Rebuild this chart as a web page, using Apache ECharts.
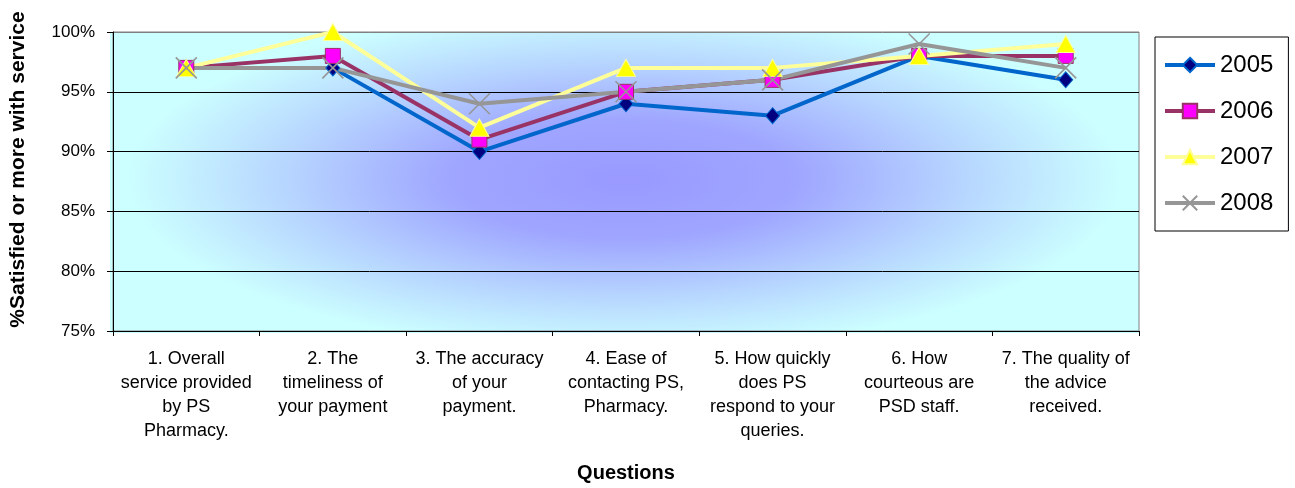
<!DOCTYPE html>
<html>
<head>
<meta charset="utf-8">
<title>Satisfaction with PS Pharmacy service</title>
<script src="https://cdn.jsdelivr.net/npm/echarts@6/dist/echarts.min.js"></script>
<style>
  html, body { margin: 0; padding: 0; background: #ffffff; }
  #chart { width: 1295px; height: 488px; }
</style>
</head>
<body>
<div id="chart"></div>
<script>
// Survey questions (line breaks as printed under the axis)
const questions = [
  '1. Overall\nservice provided\nby PS\nPharmacy.',
  '2. The\ntimeliness of\nyour payment',
  '3. The accuracy\nof your\npayment.',
  '4. Ease of\ncontacting PS,\nPharmacy.',
  '5. How quickly\ndoes PS\nrespond to your\nqueries.',
  '6. How\ncourteous are\nPSD staff.',
  '7. The quality of\nthe advice\nreceived.'
];

// % satisfied or more, per survey year
const years = ['2005', '2006', '2007', '2008'];
const values2005 = [97, 97, 90, 94, 93, 98, 96];
const values2006 = [97, 98, 91, 95, 96, 98, 98];
const values2007 = [97, 100, 92, 97, 97, 98, 99];
const values2008 = [97, 97, 94, 95, 96, 99, 97];

// Value axis range
const yMin = 75;
const yMax = 100;
const yStep = 5;

// Plot area placement
const W = 1295, H = 488;
const gridLeft = 110, gridTop = 32, gridRight = 156, gridBottom = 155;
const plotW = W - gridLeft - gridRight;
const plotH = H - gridTop - gridBottom;

const FONT = '"Liberation Sans", Arial, sans-serif';

// Elliptical "from centre" fill behind the plot: a radial gradient on a
// rect that is stretched horizontally.
const aspect = 2.9;
const backdrop = {
  type: 'rect',
  z: -10,
  silent: true,
  x: gridLeft,
  y: gridTop,
  scaleX: aspect,
  scaleY: 1,
  shape: { x: 0, y: 0, width: plotW / aspect, height: plotH },
  style: {
    fill: new echarts.graphic.RadialGradient(0.5, 0.49, 0.57, [
      { offset: 0, color: '#9999ff' },
      { offset: 0.35, color: '#9fa6ff' },
      { offset: 0.7, color: '#b8d8ff' },
      { offset: 1, color: '#ccffff' }
    ])
  }
};

const xCross = 'path://M0,0L10,10M10,0L0,10';

function lineSeries(name, data, lineColor, symbol, symbolSize, fill, border, borderWidth) {
  return {
    name: name,
    type: 'line',
    data: data,
    symbol: symbol,
    symbolSize: symbolSize,
    lineStyle: { color: lineColor, width: 4 },
    itemStyle: { color: fill, borderColor: border, borderWidth: borderWidth },
    emphasis: { disabled: true },
    animation: false
  };
}

const chart = echarts.init(document.getElementById('chart'), null, { renderer: 'canvas' });

chart.setOption({
  backgroundColor: '#ffffff',
  animation: false,
  graphic: [backdrop],
  grid: {
    left: gridLeft, top: gridTop, right: gridRight, bottom: gridBottom,
    show: true,
    backgroundColor: 'transparent',
    borderColor: '#808080',
    borderWidth: 1
  },
  legend: {
    orient: 'vertical',
    left: 1155,
    top: 37,
    padding: [14, 15, 14, 8],
    itemWidth: 50,
    itemHeight: 18,
    itemGap: 18,
    backgroundColor: '#ffffff',
    borderColor: '#000000',
    borderWidth: 1,
    borderRadius: 0,
    lineStyle: { width: 4 },
    textStyle: { fontFamily: FONT, fontSize: 24, color: '#000', lineHeight: 28 },
    data: years
  },
  xAxis: {
    type: 'category',
    data: questions,
    boundaryGap: true,
    name: 'Questions',
    nameLocation: 'middle',
    nameGap: 132,
    nameTextStyle: { fontFamily: FONT, fontSize: 20, fontWeight: 'bold', color: '#000' },
    axisLine: { lineStyle: { color: '#000', width: 1 } },
    axisTick: { show: true, length: 5, interval: 0, lineStyle: { color: '#000' } },
    axisLabel: {
      interval: 0,
      margin: 16,
      fontFamily: FONT,
      fontSize: 18,
      lineHeight: 24,
      color: '#000',
      align: 'center'
    },
    splitLine: { show: false }
  },
  yAxis: {
    type: 'value',
    min: yMin,
    max: yMax,
    interval: yStep,
    name: '%Satisfied or more with service',
    nameLocation: 'middle',
    nameGap: 84,
    nameRotate: 90,
    nameTextStyle: {
      fontFamily: FONT, fontSize: 21, fontWeight: 'bold', color: '#000',
      padding: [0, 0, 0, 24]
    },
    axisLine: { show: true, lineStyle: { color: '#000', width: 1 } },
    axisTick: { show: true, length: 6, lineStyle: { color: '#000' } },
    axisLabel: {
      formatter: '{value}%',
      margin: 18,
      fontFamily: FONT,
      fontSize: 17,
      color: '#000'
    },
    splitLine: {
      show: true,
      lineStyle: { color: ['#000', '#000', '#000', '#000', '#000', '#808080'], width: 1 }
    }
  },
  series: [
    lineSeries(years[0], values2005, '#0066cc', 'diamond', [14, 16], '#000080', '#0066cc', 1),
    lineSeries(years[1], values2006, '#993366', 'rect', 15, '#ff00ff', '#993366', 1),
    lineSeries(years[2], values2007, '#ffff99', 'triangle', [19, 17], '#ffff00', '#ffff99', 1),
    lineSeries(years[3], values2008, '#969696', xCross, 21, 'none', '#969696', 1.6)
  ]
});
</script>
</body>
</html>
